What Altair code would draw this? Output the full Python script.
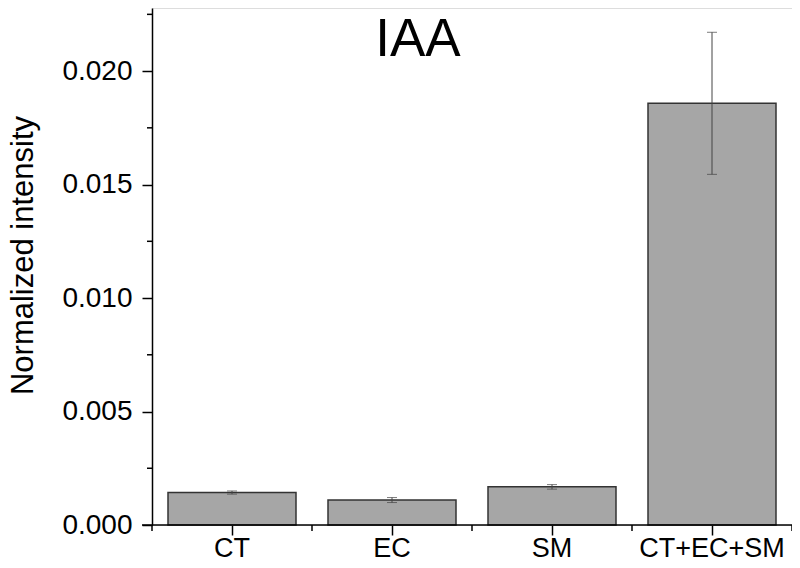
import altair as alt
import pandas as pd

categories = ["CT", "EC", "SM", "CT+EC+SM"]
means = [0.00143, 0.00110, 0.00168, 0.01858]
errors = [0.00007, 0.00011, 0.00010, 0.00313]
y_major_ticks = [0.0, 0.005, 0.010, 0.015, 0.020]
y_minor_ticks = [0.0025, 0.0075, 0.0125, 0.0175, 0.0225]
x_boundaries = [0, 1, 2, 3, 4]
title_text = ["IAA"]

FONT = "Liberation Sans"
W, H = 640, 517
Y_MAX = 0.02278

df = pd.DataFrame({"cat": categories, "mean": means, "err": errors})
df["lo"] = df["mean"] - df["err"]
df["hi"] = df["mean"] + df["err"]

xscale = alt.Scale(domain=categories, paddingInner=0.2, paddingOuter=0.1)
yscale = alt.Scale(domain=[0, Y_MAX], nice=False, zero=True)

x_axis = alt.Axis(
    title=None, labelAngle=0, labelFontSize=27, labelFont=FONT, labelColor="black",
    tickSize=10, tickColor="black", tickWidth=1.5, labelPadding=0, domain=False,
)
y_axis = alt.Axis(
    title="Normalized intensity", values=y_major_ticks, format=".3f",
    labelFontSize=28, labelFont=FONT, labelColor="black", labelPadding=10,
    tickSize=10, tickColor="black", tickWidth=1.5, domainColor="black", domainWidth=1.5,
    grid=False, titleFontSize=31, titleFont=FONT, titleFontWeight="normal",
    titleColor="black", titleX=-120, titleY=247, titleAngle=270,
    titleBaseline="alphabetic", titleAlign="center",
)

base = alt.Chart(df)
x_enc = alt.X("cat:N", scale=xscale, sort=categories, axis=x_axis)

bars = base.mark_bar(fill="#a6a6a6", stroke="#333333", strokeWidth=1.5).encode(
    x=x_enc, y=alt.Y("mean:Q", scale=yscale, axis=y_axis)
)
err_rule = base.mark_rule(color="#444444", strokeWidth=1).encode(
    x=x_enc, y=alt.Y("lo:Q", scale=yscale, axis=y_axis), y2="hi:Q"
)
cap_lo = base.mark_tick(color="#444444", size=10, thickness=1, orient="horizontal").encode(
    x=x_enc, y=alt.Y("lo:Q", scale=yscale, axis=y_axis)
)
cap_hi = base.mark_tick(color="#444444", size=10, thickness=1, orient="horizontal").encode(
    x=x_enc, y=alt.Y("hi:Q", scale=yscale, axis=y_axis)
)
yminor = alt.Chart(pd.DataFrame({"v": y_minor_ticks})).mark_rule(
    color="black", strokeWidth=1.5
).encode(y=alt.Y("v:Q", scale=yscale, axis=y_axis), x=alt.value(-5), x2=alt.value(0))

xline = alt.Chart(pd.DataFrame({"a": [0]})).mark_rule(
    color="black", strokeWidth=1.5
).encode(y=alt.value(H), x=alt.value(-10), x2=alt.value(W))

title_mark = alt.Chart(pd.DataFrame({"t": title_text})).mark_text(
    font=FONT, fontSize=53, color="black", align="center", baseline="alphabetic"
).encode(text="t:N", x=alt.value(266), y=alt.value(48))

inner = alt.layer(bars, err_rule, cap_lo, cap_hi, yminor, xline, title_mark)

xminor = alt.Chart(pd.DataFrame({"b": x_boundaries})).mark_rule(
    color="black", strokeWidth=1.5
).encode(
    x=alt.X("b:Q", scale=alt.Scale(domain=[0, 4], nice=False), axis=None),
    y=alt.value(H), y2=alt.value(H + 6),
)

chart = alt.layer(inner, xminor).resolve_scale(x="independent").properties(
    width=W, height=H,
    autosize=alt.AutoSizeParams(type="none"),
    padding={"left": 144, "top": 0, "right": 0, "bottom": 35},
).configure_view(stroke=None).configure(background="white")

chart.save("out.html", embed_options={"renderer": "svg", "actions": False})
